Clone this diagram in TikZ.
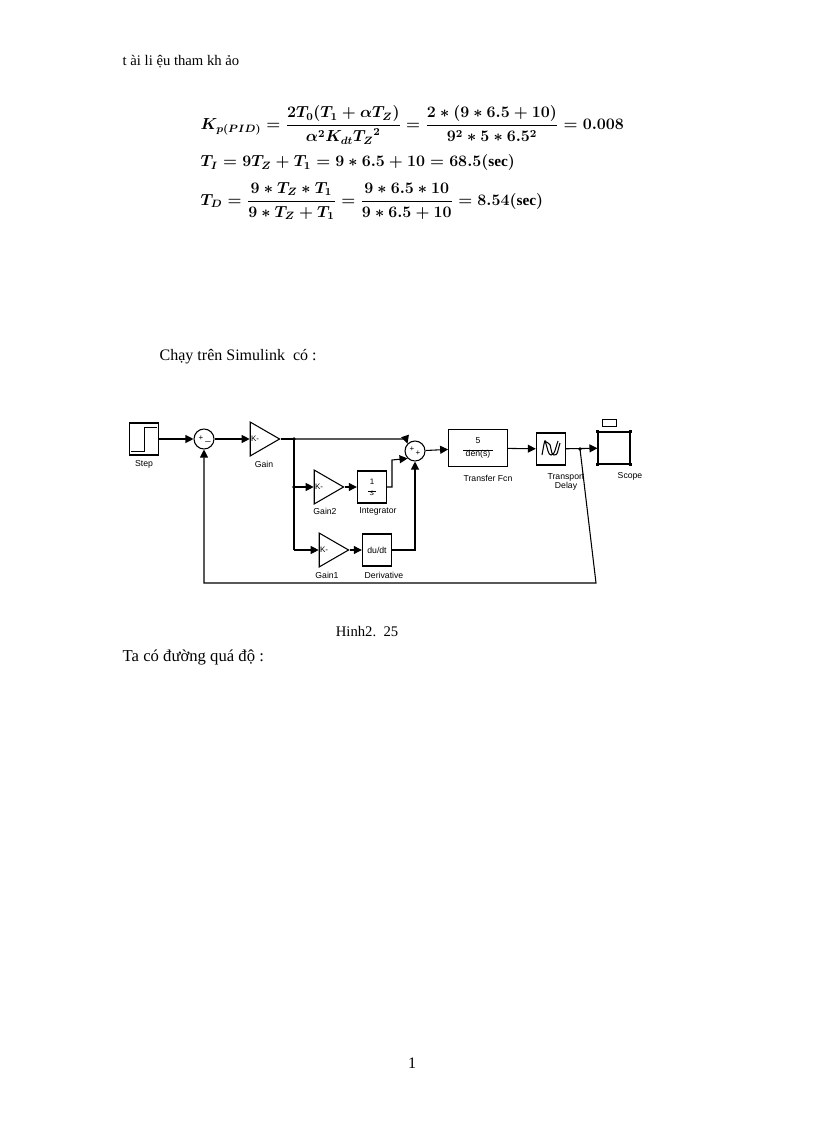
\documentclass[tikz,border=0pt]{standalone}
\usepackage{amsmath}
\usepackage{fontspec}
\setmainfont{Liberation Serif}
\newfontfamily\blk{Liberation Sans}
\usetikzlibrary{arrows.meta,shapes.geometric}
\newcommand{\formA}{\mbox{\boldmath$K_{p(PID)}=\dfrac{2T_0(T_1+\alpha T_Z)}{\alpha^2K_{dt}{T_Z}^2}=\dfrac{2*(9*6.5+10)}{9^2*5*6.5^2}=0.008$}}
\newcommand{\formB}{\mbox{\boldmath$T_I=9T_Z+T_1=9*6.5+10=68.5(\mathrm{sec})$}}
\newcommand{\formC}{\mbox{\boldmath$T_D=\dfrac{9*T_Z*T_1}{9*T_Z+T_1}=\dfrac{9*6.5*10}{9*6.5+10}=8.54(\mathrm{sec})$}}
\begin{document}
\begin{tikzpicture}[x=0.75pt,y=-0.75pt,
  lbl/.style={font=\blk\fontsize{6.5}{7}\selectfont,align=center},
  blkbox/.style={draw,thick,minimum width=22pt,minimum height=24pt,inner sep=0pt},
  sumc/.style={draw,thick,circle,minimum size=15pt,inner sep=0pt},
  gainc/.style={draw,thick,isosceles triangle,isosceles triangle apex angle=60,minimum height=22pt,inner sep=0pt},
  ar/.style={-{Triangle[length=6pt,width=6pt]},thick},
  ln/.style={thick},
  fm/.style={anchor=west,font=\fontsize{11.5}{14}\selectfont}]
\useasboundingbox (0,0) rectangle (816,1123);
\node[anchor=west,font=\fontsize{11}{13}\selectfont] (t1) at (118,62) {t ài li ệu tham kh ảo};
\node[fm] (f1) at (196,125) {\formA};
\node[fm] (f2) at (196,163) {\formB};
\node[fm] (f3) at (196,201) {\formC};
\node[anchor=west,font=\fontsize{12}{14}\selectfont] (t2) at (155,357) {Chạy trên Simulink\ \ có :};

% blocks
\node[blkbox] (step) at (144,439) {};
\draw[thick] (step.south west) ++(2,-4) -- ++(14,0) -- ++(0,-24) -- ++(12,0);
\node[lbl] (stepl) at (144,464) {Step};
\node[sumc] (s1) at (204,439) {};
\node[font=\blk\fontsize{6}{6}\selectfont] (s1t) at (201,438) {+};
\node[font=\blk\fontsize{7}{6}\selectfont] (s1m) at (208,441) {\_};
\node[gainc] (g) at (260,439) {};
\node[font=\blk\fontsize{6}{6}\selectfont] (gk) at (255,439) {K-};
\node[lbl] (gl) at (264,464) {Gain};
\node[sumc] (s2) at (415,451) {};
\node[font=\blk\fontsize{6}{6}\selectfont] (s2t) at (412,449) {+};
\node[font=\blk\fontsize{6}{6}\selectfont] (s2p) at (418,453) {+};
\node[gainc] (g2) at (324,487) {};
\node[font=\blk\fontsize{6}{6}\selectfont] (g2k) at (319,487) {K-};
\node[lbl] (g2l) at (325,511) {Gain2};
\node[blkbox] (int) at (372,487) {};
\node[font=\blk\fontsize{6}{6}\selectfont,align=center] (intt) at (372,487) {1\\[-1pt]\rule{6pt}{0.4pt}\\[-3pt]\textit{s}};
\node[lbl] (intl) at (378,511) {Integrator};
\node[gainc] (g1) at (329,550) {};
\node[font=\blk\fontsize{6}{6}\selectfont] (g1k) at (324,550) {K-};
\node[lbl] (g1l) at (327,575) {Gain1};
\node[blkbox,font=\blk\fontsize{6.5}{7}\selectfont] (der) at (377,550) {du/dt};
\node[lbl] (derl) at (384,575) {Derivative};
\node[blkbox,minimum width=44pt,minimum height=28pt] (tf) at (478,448) {};
\node[font=\blk\fontsize{6.5}{7}\selectfont,align=center] (tft) at (478,448) {5\\[-2pt]\rule{22pt}{0.4pt}\\[-2pt]den(s)};
\node[lbl] (tfl) at (488,478) {Transfer Fcn};
\node[blkbox] (td) at (551,449) {};
\draw[thick] (td.center) ++(-9,6) .. controls ++(4,-22) and ++(-4,0) .. ++(6,-12) .. controls ++(4,0) and ++(-4,0) .. ++(6,12) .. controls ++(4,0) and ++(-3,10) .. ++(6,-12);
\draw[thick] (td.center) ++(-6,-8) .. controls ++(3,8) and ++(-3,0) .. ++(6,14) .. controls ++(4,0) and ++(-3,8) .. ++(7,-14);
\node[lbl] (tdl) at (566,482) {Transport\\Delay};
\node[blkbox,minimum width=24pt] (sc) at (614,448) {};
\draw[thick] (sc.north west) ++(5,-5) rectangle ++(14,-7);
\foreach \a in {north west,north east,south west,south east} \fill (sc.\a) ++(-1.5,-1.5) rectangle ++(3,3);
\node[lbl] (scl) at (630,476) {Scope};

% connectors
\coordinate (b1) at (294,439);
\coordinate (b2) at (580,449);
\draw[ar] (step) -- (s1);
\draw[ar] (s1) -- (g);
\draw[ln] (g.apex) -- (b1);
\draw[ar] (b1) -- (406,439) -- (s2.north west);
\draw[ln] (b1) -- (294,550);
\draw[ar] (294,487) -- (g2);
\draw[ar] (294,550) -- (g1);
\fill (b1) circle (1.8);
\fill (294,487) circle (1.8);
\draw[ar] (g2.apex) -- (int);
\draw[ar] (g1.apex) -- (der);
\draw[ar] (int.east) -- (392,487) -- (392,460) -- (s2.south west);
\draw[ar] (der.east) -- (415,550) -- (s2.south);
\draw[ar] (s2) -- (tf);
\draw[ar] (tf) -- (td);
\draw[ar] (td) -- (sc);
\fill (b2) circle (1.8);
\draw[ar] (b2) -- (596,583) -- (204,583) -- (s1.south);

\node[font=\fontsize{11}{13}\selectfont] (cap) at (367,632) {Hinh2.\ \ 25};
\node[anchor=west,font=\fontsize{12.5}{14}\selectfont] (t3) at (118,657) {Ta có đường quá độ :};
\node[font=\fontsize{12}{14}\selectfont] (pg) at (412,1063) {1};
\end{tikzpicture}
\end{document}
